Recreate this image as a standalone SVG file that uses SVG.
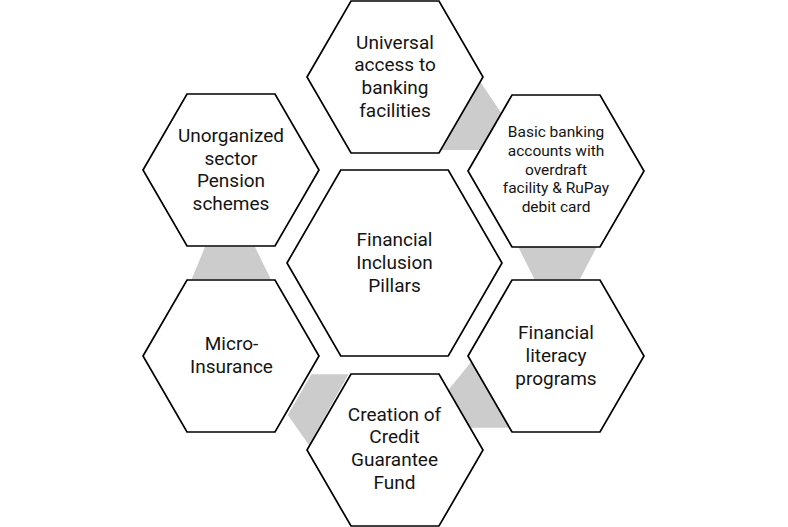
<svg xmlns="http://www.w3.org/2000/svg" width="788" height="527" viewBox="0 0 788 527">
<style>
.hex{fill:#fff;stroke:#000;stroke-width:1.7;stroke-linejoin:miter}
.gap{fill:#cccccc;stroke:none}
.t{font-family:Roboto,"Open Sans",sans-serif;font-size:19px;fill:#141414;text-anchor:middle}
.s{font-size:15.5px}
</style>
<rect width="788" height="527" fill="#fff"/>
<g id="connectors">
<polygon class="gap" points="480.3,81.7 501.4,113.3 480.2,150 440.7,150"/>
<polygon class="gap" points="518.3,247 596.7,247 580,279 534.3,279"/>
<polygon class="gap" points="471.3,361.7 448.3,390 470.1,427.7 509.5,427.7"/>
<polygon class="gap" points="311.4,374.3 348.5,374.3 308.9,445 287.8,415"/>
<polygon class="gap" points="205,247 255,247 270.7,279 191.7,279"/>
</g>
<g id="center">
<polygon class="hex" points="287,263 340.75,170 448.25,170 502,263 448.25,356 340.75,356"/>
<text class="t"><tspan x="394.5" y="246">Financial</tspan><tspan x="394.5" y="269">Inclusion</tspan><tspan x="394.5" y="292">Pillars</tspan></text>
</g>
<g id="universal">
<polygon class="hex" points="307,77 351,1 439,1 483,77 439,153 351,153"/>
<text class="t"><tspan x="395" y="48.5">Universal</tspan><tspan x="395" y="71.3">access to</tspan><tspan x="395" y="94.1">banking</tspan><tspan x="395" y="116.9">facilities</tspan></text>
</g>
<g id="basic">
<polygon class="hex" points="468,171 512,95 600,95 644,171 600,247 512,247"/>
<text class="t s"><tspan x="556" y="137.3">Basic banking</tspan><tspan x="556" y="155.9">accounts with</tspan><tspan x="556" y="174.5">overdraft</tspan><tspan x="556" y="193.1">facility &amp; RuPay</tspan><tspan x="556" y="211.7">debit card</tspan></text>
</g>
<g id="literacy">
<polygon class="hex" points="468,356 512,280 600,280 644,356 600,432 512,432"/>
<text class="t"><tspan x="556" y="338.5">Financial</tspan><tspan x="556" y="361.5">literacy</tspan><tspan x="556" y="384.5">programs</tspan></text>
</g>
<g id="credit">
<polygon class="hex" points="307,450 351,374 439,374 483,450 439,526 351,526"/>
<text class="t"><tspan x="394.5" y="420.7">Creation of</tspan><tspan x="394.5" y="443.4">Credit</tspan><tspan x="394.5" y="466.1">Guarantee</tspan><tspan x="394.5" y="488.8">Fund</tspan></text>
</g>
<g id="micro">
<polygon class="hex" points="143,356 187,280 275,280 319,356 275,432 187,432"/>
<text class="t"><tspan x="231.5" y="350">Micro-</tspan><tspan x="231.5" y="372.7">Insurance</tspan></text>
</g>
<g id="pension">
<polygon class="hex" points="143,170 187,94 275,94 319,170 275,246 187,246"/>
<text class="t"><tspan x="231" y="141.7">Unorganized</tspan><tspan x="231" y="164.5">sector</tspan><tspan x="231" y="187.3">Pension</tspan><tspan x="231" y="210.1">schemes</tspan></text>
</g>
</svg>
